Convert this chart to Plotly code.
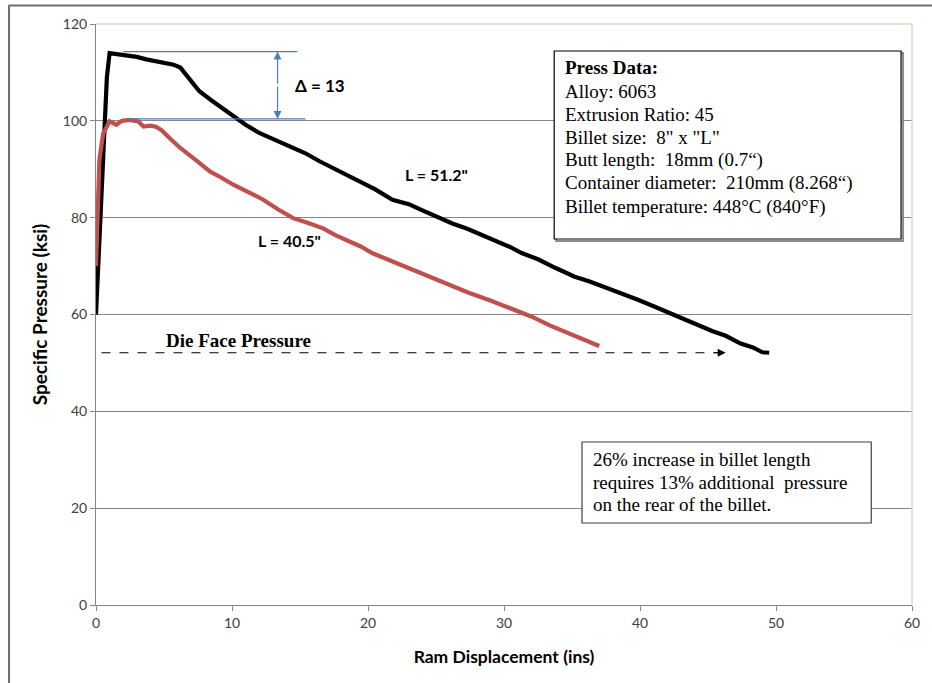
import plotly.graph_objects as go

# ---- data ----
black_x = [0, 0.4, 0.8, 1.0, 1.5, 2.0, 2.5, 3.0, 3.7, 4.5, 5.0, 5.7, 6.2, 6.8, 7.6,
           8.5, 9.3, 10.1, 11.0, 12.0, 13.0, 14.2, 15.4, 16.4, 17.4, 18.6, 19.5, 20.5,
           21.8, 23.0, 24.0, 25.0, 26.2, 27.3, 28.4, 29.5, 30.4, 31.3, 32.5, 33.8, 35.2,
           36.3, 37.5, 38.6, 39.8, 41.0, 42.0, 43.0, 44.2, 45.3, 46.3, 47.4, 48.3, 49.0, 49.5]
black_y = [60, 85, 109, 114, 113.8, 113.8, 113.4, 113.2, 112.7, 112.3, 111.9, 111.6, 111.0,
           109, 106.1, 104.2, 102.6, 100.9, 99.2, 97.5, 96.2, 94.7, 93.3, 91.7, 90.3, 88.5,
           87.4, 85.9, 83.7, 82.8, 81.5, 80.2, 78.8, 77.7, 76.4, 75.1, 74.0, 72.7, 71.4,
           69.6, 67.8, 66.8, 65.6, 64.4, 63.1, 61.7, 60.5, 59.2, 57.9, 56.6, 55.6, 54.0,
           53.2, 52.2, 52.1]

red_x = [0, 0.25, 0.53, 1.0, 1.5, 1.9, 2.5, 3.1, 3.5, 4.0, 4.4, 4.8, 5.5, 6.2, 7.3, 8.4,
         9.2, 10.1, 11.2, 12.3, 13.4, 14.5, 15.6, 16.7, 17.6, 18.6, 19.5, 20.3, 21.6, 23.0,
         24.5, 25.9, 27.4, 28.9, 30.4, 32.0, 33.4, 34.7, 36.0, 37.0]
red_y = [70, 92, 97.4, 99.9, 99.2, 100, 100.2, 99.9, 98.8, 99.0, 98.8, 98.1, 96.2, 94.4,
         92.0, 89.5, 88.3, 86.8, 85.3, 83.7, 81.7, 79.9, 78.9, 77.8, 76.4, 75.1, 74.0,
         72.7, 71.2, 69.6, 67.9, 66.1, 64.5, 63.0, 61.4, 59.6, 57.7, 56.1, 54.5, 53.5]

x_ticks = [0, 10, 20, 30, 40, 50, 60]
y_ticks = [0, 20, 40, 60, 80, 100, 120]

press_lines = ["<b>Press Data:</b>", "Alloy: 6063", "Extrusion Ratio: 45",
               'Billet size:  8" x "L"', "Butt length:  18mm (0.7“)",
               "Container diameter:  210mm (8.268“)", "Billet temperature: 448°C (840°F)"]
note_lines = ["26% increase in billet length", "requires 13% additional  pressure",
              "on the rear of the billet."]

peak_long = 114.3
peak_short = 100.4
die_face = 52.1

# ---- figure ----
W, H = 932, 683
L, R, T, B = 96, 15, 24, 78
pw, ph = W - L - R, H - T - B

def px_x(p):  # pixel -> paper
    return (p - L) / pw

def px_y(p):
    return 1 - (p - T) / ph

fig = go.Figure()
fig.add_trace(go.Scatter(x=black_x, y=black_y, mode="lines",
                         line=dict(color="black", width=4.2), showlegend=False))
fig.add_trace(go.Scatter(x=red_x, y=red_y, mode="lines",
                         line=dict(color="#c0504d", width=4.2), showlegend=False))

sans = "Lato"
serif = "Liberation Serif"
blue = "#4a7ebb"

shapes = []
annotations = []

# plot area top/right border (beige)
shapes.append(dict(type="line", xref="x domain", yref="y domain", x0=0, x1=1, y0=1, y1=1,
                   line=dict(color="#ddd9c3", width=1.5)))
shapes.append(dict(type="line", xref="x domain", yref="y domain", x0=1, x1=1, y0=0, y1=1,
                   line=dict(color="#ddd9c3", width=1.5)))

# outer frame
shapes.append(dict(type="line", xref="paper", yref="paper", x0=px_x(8), x1=px_x(940),
                   y0=px_y(5.5), y1=px_y(5.5), line=dict(color="#6e6e6e", width=2)))
shapes.append(dict(type="line", xref="paper", yref="paper", x0=px_x(8.5), x1=px_x(8.5),
                   y0=px_y(5.5), y1=px_y(700), line=dict(color="#6e6e6e", width=2)))

# blue delta lines
shapes.append(dict(type="line", xref="x", yref="y", x0=2.0, x1=14.8, y0=peak_long, y1=peak_long,
                   line=dict(color=blue, width=1.2)))
shapes.append(dict(type="line", xref="x", yref="y", x0=2.4, x1=15.4, y0=peak_short, y1=peak_short,
                   line=dict(color=blue, width=1.2)))
mid = (peak_long + peak_short) / 2
for yy in (peak_long, peak_short):
    annotations.append(dict(x=13.35, y=yy, ax=13.35, ay=mid, xref="x", yref="y",
                            axref="x", ayref="y", text="", showarrow=True, arrowhead=2,
                            arrowsize=1.3, arrowwidth=1.2, arrowcolor=blue))
annotations.append(dict(x=16.5, y=107.4, xref="x", yref="y", text="<b>Δ = 13</b>",
                        showarrow=False, font=dict(family=sans, size=17, color="black")))

# die face pressure dashed arrow
shapes.append(dict(type="line", xref="x", yref="y", x0=0.4, x1=45.8, y0=die_face, y1=die_face,
                   line=dict(color="black", width=1, dash="dash")))
annotations.append(dict(x=46.3, y=die_face, ax=45.3, ay=die_face, xref="x", yref="y",
                        axref="x", ayref="y", text="", showarrow=True, arrowhead=2,
                        arrowsize=1.6, arrowwidth=1, arrowcolor="black"))
annotations.append(dict(x=10.5, y=54.6, xref="x", yref="y", text="<b>Die Face Pressure</b>",
                        showarrow=False, font=dict(family=serif, size=19, color="black")))

# curve labels
annotations.append(dict(x=25.0, y=89.0, xref="x", yref="y", text='<b>L = 51.2"</b>',
                        showarrow=False, font=dict(family=sans, size=16, color="black")))
annotations.append(dict(x=14.2, y=75.2, xref="x", yref="y", text='<b>L = 40.5"</b>',
                        showarrow=False, font=dict(family=sans, size=16, color="black")))

# press data box
shapes.append(dict(type="rect", xref="paper", yref="paper", x0=px_x(559), x1=px_x(908),
                   y0=px_y(53), y1=px_y(241), line=dict(color="#8c8c8c", width=2),
                   fillcolor="rgba(0,0,0,0)"))
shapes.append(dict(type="rect", xref="paper", yref="paper", x0=px_x(557), x1=px_x(906),
                   y0=px_y(51), y1=px_y(239), line=dict(color="black", width=1.2),
                   fillcolor="white"))
press_y = [68, 91, 115, 137, 160, 183, 207]
for txt, yy in zip(press_lines, press_y):
    annotations.append(dict(x=px_x(566), y=px_y(yy), xref="paper", yref="paper", text=txt,
                            xanchor="left", yanchor="middle", showarrow=False,
                            font=dict(family=serif, size=19, color="black")))

# note box
shapes.append(dict(type="rect", xref="paper", yref="paper", x0=px_x(585), x1=px_x(876),
                   y0=px_y(442), y1=px_y(523), line=dict(color="#404040", width=1.2),
                   fillcolor="white"))
note_y = [459, 482, 504]
for txt, yy in zip(note_lines, note_y):
    annotations.append(dict(x=px_x(594), y=px_y(yy), xref="paper", yref="paper", text=txt,
                            xanchor="left", yanchor="middle", showarrow=False,
                            font=dict(family=serif, size=19, color="black")))

fig.update_layout(
    width=W, height=H,
    margin=dict(l=L, r=R, t=T, b=B),
    paper_bgcolor="white", plot_bgcolor="white",
    shapes=shapes, annotations=annotations,
    xaxis=dict(range=[0, 60], tickvals=x_ticks, ticks="outside", ticklen=5,
               tickcolor="#868686", showline=True, linecolor="#868686", linewidth=1,
               showgrid=False, zeroline=False,
               tickfont=dict(family=sans, size=14, color="#404040"),
               title=dict(text="<b>Ram Displacement (ins)</b>", standoff=20,
                          font=dict(family=sans, size=17.5, color="black"))),
    yaxis=dict(range=[0, 120], tickvals=y_ticks, ticks="outside", ticklen=5,
               tickcolor="#868686", showline=True, linecolor="#868686", linewidth=1,
               showgrid=True, gridcolor="#868686", gridwidth=1, zeroline=False,
               tickfont=dict(family=sans, size=14, color="#404040"),
               title=dict(text="<b>Specific Pressure (ksi)</b>", standoff=10,
                          font=dict(family=sans, size=19, color="black"))),
)

fig.write_html("out.html", config={"displayModeBar": False},
               post_script="document.body.style.margin='0px';")
